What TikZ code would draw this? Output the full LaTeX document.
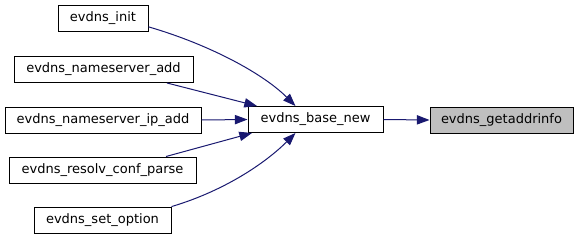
\documentclass[tikz,border=0pt]{standalone}
\usepackage{fontspec}
\setmainfont{DejaVu Sans}
\usetikzlibrary{arrows.meta}
\definecolor{edgeblue}{HTML}{191970}
\definecolor{hlgray}{HTML}{BFBFBF}
\begin{document}
\begin{tikzpicture}[x=0.75pt,y=-0.75pt,
  box/.style={draw=black, fill=white, line width=0.75pt, inner sep=0pt,
    minimum height=19.5pt, font=\fontsize{9.75}{12}\selectfont, anchor=center},
  edge/.style={draw=edgeblue, line width=0.75pt,
    -{Triangle[length=9.5pt,width=7pt]}}]
\useasboundingbox (0,0) rectangle (579,240);
\node[box, minimum width=67.5pt]  (init)    at (103,18)    {evdns\_init};
\node[box, minimum width=134.25pt](nsadd)   at (103.5,69.5){evdns\_nameserver\_add};
\node[box, minimum width=147pt]   (ipadd)   at (103,120)   {evdns\_nameserver\_ip\_add};
\node[box, minimum width=140.25pt](resolv)  at (102.5,170) {evdns\_resolv\_conf\_parse};
\node[box, minimum width=102.75pt](setopt)  at (102.5,220) {evdns\_set\_option};
\node[box, minimum width=101.25pt](basenew) at (315.5,119.5){evdns\_base\_new};
\node[box, fill=hlgray, minimum width=107.25pt](getaddr) at (501.5,120){evdns\_getaddrinfo};

\draw[edge] (init.-11) .. controls +(62,18) and +(-32,-32) .. (basenew.146);
\draw[edge] (nsadd.-12.5) -- (basenew.167.7);
\draw[edge] (ipadd.east) -- (basenew.west);
\draw[edge] (resolv.12.7) -- (basenew.192.3);
\draw[edge] (setopt.11.2) .. controls +(57,-17) and +(-27,27) .. (basenew.214);
\draw[edge] (basenew.east) -- (getaddr.west);
\end{tikzpicture}
\end{document}
